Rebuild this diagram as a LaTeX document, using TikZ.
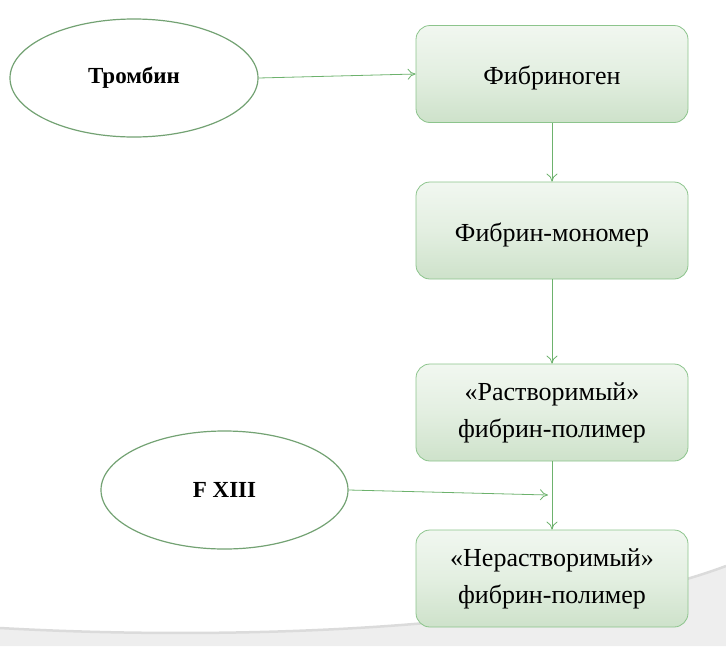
\documentclass[tikz,border=0pt]{standalone}
\usepackage{fontspec}
\setmainfont{Liberation Serif}
\newfontfamily\tnr{Liberation Serif}
\usetikzlibrary{arrows.meta,shapes.geometric}
\definecolor{linegreen}{HTML}{6DB26D}
\definecolor{ellgreen}{HTML}{73A273}
\definecolor{boxborder}{HTML}{8CC48C}
\definecolor{shA}{HTML}{D8E8D5}
\definecolor{shB}{HTML}{C6DDC2}
\definecolor{shC}{HTML}{E3EFE1}
\definecolor{shD}{HTML}{FFFFFF}
\pgfdeclareverticalshading{boxshade}{100bp}{color(0bp)=(shA); color(16bp)=(shB); color(50bp)=(shC); color(100bp)=(shD)}
\tikzset{
  stepbox/.style={draw=boxborder, line width=0.8pt, rounded corners=14pt, shading=boxshade,
    minimum width=272pt, minimum height=97pt, align=center, font=\tnr\fontsize{26}{37}\selectfont, inner sep=0pt},
  lowtext/.style={text height=26pt, text depth=5pt},
  factor/.style={draw=ellgreen, line width=1.2pt, ellipse, fill=white, font=\tnr\bfseries\fontsize{23}{26}\selectfont},
  conn/.style={draw=linegreen, line width=0.8pt, -{To[length=8pt,width=11pt]}},
}
\begin{document}
\begin{tikzpicture}[x=1pt,y=-1pt]
\useasboundingbox (0,0) rectangle (726,646);
% background swoosh
\fill[gray!13] (0,628) .. controls (250,642) and (560,628) .. (726,566) -- (726,646) -- (0,646) -- cycle;
\draw[gray!28, line width=2.5pt] (0,628) .. controls (250,642) and (560,628) .. (726,566);
% nodes
\node[stepbox, lowtext] (b1) at (552,74) {Фибриноген};
\node[stepbox, lowtext] (b2) at (552,230.5) {Фибрин-мономер};
\node[stepbox] (b3) at (552,412.5) {«Растворимый»\\фибрин-полимер};
\node[stepbox] (b4) at (552,578.5) {«Нерастворимый»\\фибрин-полимер};
\node[factor, minimum width=248pt, minimum height=118pt] (e1) at (134,78) {Тромбин};
\node[factor, minimum width=247pt, minimum height=118pt] (e2) at (224.5,490) {F XIII};
\coordinate (m) at (548,495);
% connectors
\draw[conn] (e1.east) -- (b1.west);
\draw[conn] (b1.south) -- (b2.north);
\draw[conn] (b2.south) -- (b3.north);
\draw[conn] (b3.south) -- (b4.north);
\draw[conn] (e2.east) -- (m);
\end{tikzpicture}
\end{document}
